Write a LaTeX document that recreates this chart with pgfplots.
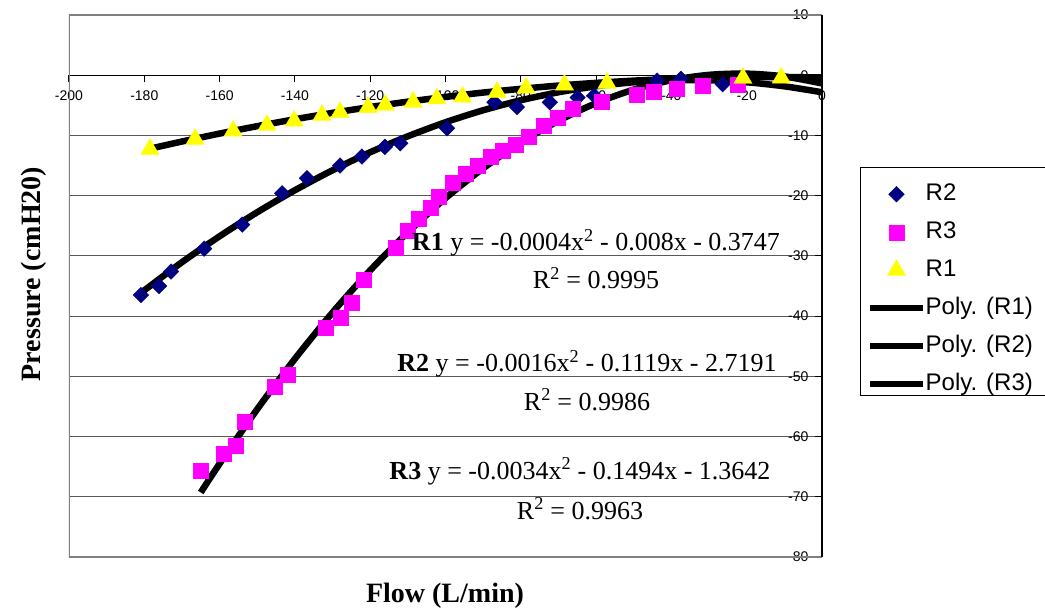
\documentclass[border=0pt]{standalone}
\usepackage{fontspec}
\setmainfont{Liberation Serif}
\newfontfamily\arial{Liberation Sans}
\usepackage{pgfplots}
\pgfplotsset{compat=1.18}
\definecolor{navyblue}{RGB}{0,0,128}
\definecolor{magentaR}{RGB}{255,0,255}
\definecolor{yellowR}{RGB}{255,255,0}
\begin{document}
\begin{tikzpicture}[x=1pt,y=1pt]
\path[use as bounding box] (0,0) rectangle (1045,614);
\begin{axis}[
  at={(69pt,57pt)}, anchor=south west,
  scale only axis, width=753pt, height=542pt,
  xmin=-200, xmax=0, ymin=-80, ymax=10,
  axis x line*=middle, axis y line*=right,
  hide obscured x ticks=false, hide obscured y ticks=false,
  axis line style={black, line width=1pt},
  xtick={-200,-180,...,0}, ytick={-80,-70,...,10},
  xtick align=outside, ytick align=inside,
  major tick length=7pt,
  tick style={black, line width=1pt},
  ymajorgrids, grid style={black!65, line width=0.9pt},
  /pgf/number format/assume math mode=true,
  tick label style={font=\arial\fontsize{14}{16}\selectfont},
  xticklabel style={anchor=north, yshift=-5pt},
  yticklabel style={anchor=east, xshift=-10pt},
  legend style={at={(axis description cs:1.0598,0.690)}, anchor=north west,
    draw=none, fill=none, inner sep=0pt,
    font=\arial\fontsize{24}{26}\selectfont,
    nodes={inner sep=0pt, text height=17pt, text depth=5pt},
    row sep=16pt, column sep=0pt},
  legend cell align=left,
  legend image code/.code={\draw[mark repeat=2,mark phase=2,#1] plot coordinates {(0pt,0pt) (26pt,0pt) (52pt,0pt)};},
]
% R2
\addplot[only marks, mark=square*, mark size=5.5pt, mark options={rotate=45, fill=navyblue, draw=navyblue}] coordinates {
(-180.9,-36.5) (-176.1,-35.0) (-172.9,-32.6) (-164.1,-28.8) (-154,-24.8) (-143.4,-19.6)
(-136.8,-17.1) (-128,-15.0) (-122.2,-13.5) (-116.1,-11.9) (-112,-11.3) (-99.6,-8.8)
(-87,-4.5) (-81,-5.3) (-72.3,-4.5) (-64.9,-3.7) (-60.5,-3.4) (-43.8,-0.9) (-37.5,-0.6) (-26.4,-1.5)};
\addlegendentry{R2}
% R3
\addplot[only marks, mark=square*, mark size=7.5pt, mark options={fill=magentaR, draw=magentaR}] coordinates {
(-164.9,-65.6) (-158.8,-62.8) (-155.6,-61.5) (-153.3,-57.6) (-145.3,-51.8) (-141.8,-49.8)
(-131.7,-41.9) (-127.8,-40.2) (-124.8,-37.7) (-121.6,-33.9) (-113.1,-28.6) (-110.1,-25.9)
(-107,-23.9) (-103.9,-22.0) (-101.7,-20.2) (-98.2,-17.8) (-94.6,-16.3) (-91.5,-15.1)
(-88,-13.6) (-84.9,-12.5) (-81.4,-11.5) (-77.8,-10.2) (-74,-8.3) (-70.1,-7.0) (-66.1,-5.6)
(-58.4,-4.4) (-49.1,-3.3) (-44.6,-2.7) (-38.6,-2.2) (-31.6,-1.8) (-22.3,-1.5)};
\addlegendentry{R3}
% R1
\addplot[only marks, mark=triangle*, mark size=10.5pt, mark options={fill=yellowR, draw=yellowR}] coordinates {
(-178.5,-12.3) (-166.5,-10.6) (-156.4,-9.25) (-147.4,-8.3) (-140.2,-7.6) (-132.8,-6.65)
(-128,-6.15) (-120.6,-5.35) (-116,-4.95) (-108.6,-4.45) (-102.3,-3.9) (-95.5,-3.6)
(-86.3,-2.8) (-78.6,-2.1) (-68.4,-1.6) (-57.1,-1.3) (-21,-0.5) (-10.8,-0.45)};
\addlegendentry{R1}
% Poly R1
\addplot[black, line width=6.5pt, smooth, no marks] coordinates {
(-178.5,-12.20) (-170,-11.01) (-160,-9.69) (-150,-8.46) (-140,-7.31) (-130,-6.25)
(-120,-5.28) (-110,-4.39) (-100,-3.60) (-90,-2.88) (-80,-2.26) (-70,-1.72) (-60,-1.27)
(-50,-0.90) (-40,-0.62) (-30,-0.43) (-20,-0.33) (-10,-0.31) (0,-0.37)};
\addlegendentry{Poly. (R1)}
% Poly R2
\addplot[black, line width=6.5pt, smooth, no marks] coordinates {
(-181,-36.19) (-170,-31.05) (-160,-26.74) (-150,-22.75) (-140,-19.10) (-130,-15.78)
(-120,-12.79) (-110,-10.14) (-100,-7.81) (-90,-5.82) (-80,-4.16) (-70,-2.83) (-60,-1.84)
(-50,-1.17) (-40,-0.84) (-30,-0.84) (-20,-1.17) (-10,-1.84) (0,-2.83)};
\addlegendentry{Poly. (R2)}
% Poly R3
\addplot[black, line width=6.5pt, smooth, no marks] coordinates {
(-165,-69.28) (-160,-64.50) (-150,-55.45) (-140,-47.09) (-130,-39.40) (-120,-32.40)
(-110,-26.07) (-100,-20.42) (-90,-15.46) (-80,-11.17) (-70,-7.57) (-60,-4.64)
(-50,-2.39) (-40,-0.83) (-30,0.06) (-20,0.26) (-10,-0.21) (0,-1.36)};
\addlegendentry{Poly. (R3)}
\draw[black!50, line width=2pt] (rel axis cs:1,1) -- (rel axis cs:0,1) -- (rel axis cs:0,0) -- (rel axis cs:1,0);
\draw[black, line width=1.2pt] (rel axis cs:1,0) -- (rel axis cs:1,1);
\end{axis}
% legend frame
\draw[black, line width=0.8pt] (860,219) rectangle (1060,447);
% equations
\node[anchor=base, font=\fontsize{26}{28}\selectfont, inner sep=0pt] at (596,363) {\textbf{R1} y = -0.0004x\textsuperscript{2} - 0.008x - 0.3747};
\node[anchor=base, font=\fontsize{26}{28}\selectfont, inner sep=0pt] at (596,325.7) {R\textsuperscript{2} = 0.9995};
\node[anchor=base, font=\fontsize{26}{28}\selectfont, inner sep=0pt] at (587,242) {\textbf{R2} y = -0.0016x\textsuperscript{2} - 0.1119x - 2.7191};
\node[anchor=base, font=\fontsize{26}{28}\selectfont, inner sep=0pt] at (587,204) {R\textsuperscript{2} = 0.9986};
\node[anchor=base, font=\fontsize{26}{28}\selectfont, inner sep=0pt] at (580,135) {\textbf{R3} y = -0.0034x\textsuperscript{2} - 0.1494x - 1.3642};
\node[anchor=base, font=\fontsize{26}{28}\selectfont, inner sep=0pt] at (580,95) {R\textsuperscript{2} = 0.9963};
% axis titles
\node[anchor=base, font=\bfseries\fontsize{28}{30}\selectfont, inner sep=0pt] at (445,12) {Flow (L/min)};
\node[anchor=base, rotate=90, font=\bfseries\fontsize{28}{30}\selectfont, inner sep=0pt] at (40,340) {Pressure (cmH20)};
\end{tikzpicture}
\end{document}
